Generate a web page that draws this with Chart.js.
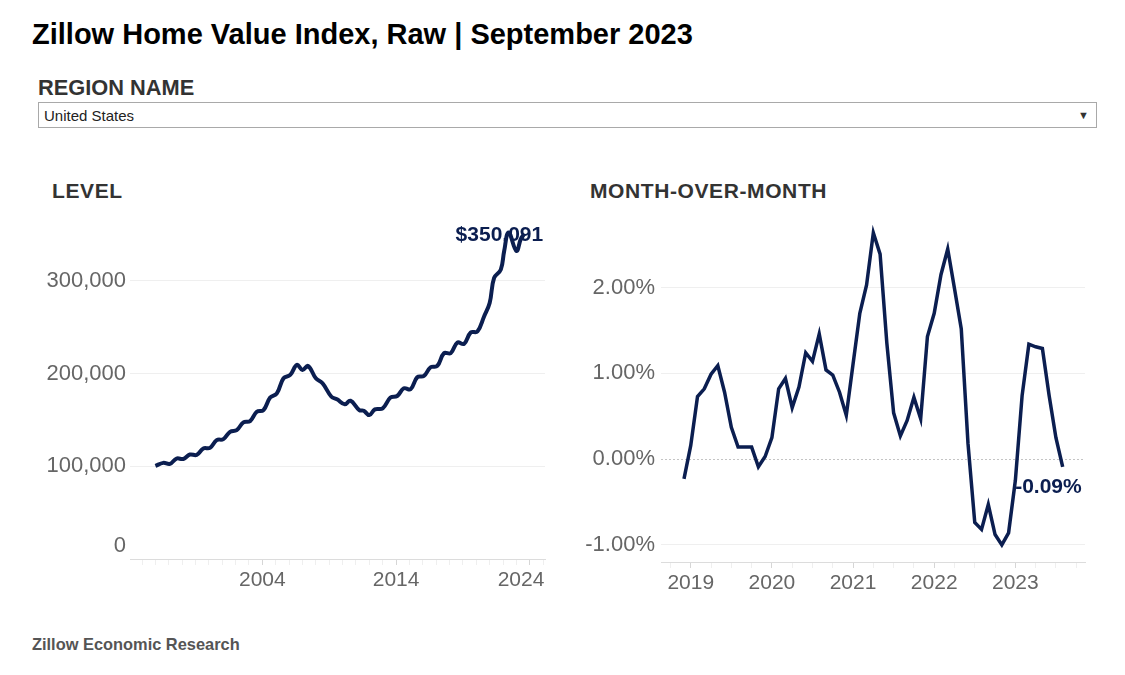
<!DOCTYPE html>
<html>
<head>
<meta charset="utf-8">
<script src="https://cdn.jsdelivr.net/npm/chart.js@4.4.0/dist/chart.umd.min.js"></script>
<style>
  body { margin: 0; width: 1125px; height: 675px; background: #fff; overflow: hidden;
         font-family: "Liberation Sans", Arial, sans-serif; position: relative; }
  .abs { position: absolute; white-space: nowrap; }
  #title { left: 32px; top: 20px; font-size: 29px; line-height: 29px; font-weight: bold; color: #000; }
  #regionLabel { left: 38px; top: 77px; font-size: 21.8px; line-height: 21px; font-weight: bold; color: #333; }
  #select { left: 38px; top: 102px; width: 1057px; height: 24px; border: 1px solid #a9a9a9; }
  #select .val { position: absolute; left: 5px; top: 4px; font-size: 15px; line-height: 17px; color: #222; }
  #select .arrow { position: absolute; right: 7px; top: 7px; font-size: 11px; line-height: 11px; color: #333; }
  .panelTitle { top: 180px; font-size: 21px; line-height: 21px; font-weight: bold; color: #333; letter-spacing: 0.6px; }
  #footer { left: 32px; top: 636px; font-size: 16.4px; line-height: 16px; font-weight: bold; color: #555; }
  canvas { position: absolute; }
</style>
</head>
<body>
<div class="abs" id="title">Zillow Home Value Index, Raw | September 2023</div>
<div class="abs" id="regionLabel">REGION NAME</div>
<div class="abs" id="select"><span class="val">United States</span><span class="arrow">&#9660;</span></div>
<div class="abs panelTitle" style="left:52px">LEVEL</div>
<div class="abs panelTitle" style="left:590px">MONTH-OVER-MONTH</div>
<canvas id="levelChart" width="525" height="380" style="left:30px; top:220px"></canvas>
<canvas id="momChart" width="525" height="396" style="left:570px; top:209px"></canvas>
<div class="abs" id="footer">Zillow Economic Research</div>

<script>
// Level series (ZHVI, raw, dollars), roughly two points a year
const levelMonths = [
  '1996-01','1996-08','1997-02','1997-08','1998-02','1998-08','1999-02','1999-08',
  '2000-02','2000-08','2001-02','2001-08','2002-02','2002-08','2003-02','2003-08',
  '2004-02','2004-08','2005-02','2005-08','2006-02','2006-08','2007-01','2007-06',
  '2008-01','2008-07','2009-03','2009-08','2010-03','2010-08','2011-04','2011-08',
  '2012-01','2012-06','2013-01','2013-08','2014-02','2014-08','2015-02','2015-08',
  '2016-02','2016-08','2017-02','2017-08','2018-02','2018-08','2019-02','2019-08',
  '2020-02','2020-08','2021-01','2021-05','2021-11','2022-02','2022-06','2023-01',
  '2023-05','2023-08'
];
const levelValues = [
  100300, 103600, 102500, 108300, 107800, 112600, 112200, 119100,
  119800, 128100, 129200, 137100, 138900, 147200, 148600, 158700,
  160500, 174000, 178600, 194800, 198400, 209200, 203800, 208100,
  194800, 189400, 174900, 172100, 166700, 170600, 160500, 159800,
  155100, 161300, 162400, 174000, 175700, 184000, 182900, 195900,
  197300, 206700, 208100, 221800, 221800, 233300, 231900, 244100,
  245200, 261400, 275900, 302900, 311900, 331700, 352000, 332000,
  345000, 350091
];
const levelYTicks = [0, 100000, 200000, 300000];
const levelXLabels = [2004, 2014, 2024];
const levelEndLabel = '$350,091';

// Month-over-month change (%)
const momMonths = [
  '2018-12',
  '2019-01','2019-02','2019-03','2019-04','2019-05','2019-06','2019-07','2019-08','2019-09','2019-10','2019-11','2019-12',
  '2020-01','2020-02','2020-03','2020-04','2020-05','2020-06','2020-07','2020-08','2020-09','2020-10','2020-11','2020-12',
  '2021-01','2021-02','2021-03','2021-04','2021-05','2021-06','2021-07','2021-08','2021-09','2021-10','2021-11','2021-12',
  '2022-01','2022-02','2022-03','2022-04','2022-05','2022-06','2022-07','2022-08','2022-09','2022-10','2022-11','2022-12',
  '2023-01','2023-02','2023-03','2023-04','2023-05','2023-06','2023-07','2023-08'
];
const momValues = [
  -0.23,
  0.16, 0.73, 0.82, 0.99, 1.09, 0.78, 0.37, 0.14, 0.14, 0.14, -0.09, 0.03,
  0.25, 0.82, 0.94, 0.60, 0.84, 1.24, 1.14, 1.46, 1.04, 0.98, 0.78, 0.51,
  1.11, 1.70, 2.03, 2.64, 2.39, 1.35, 0.54, 0.27, 0.45, 0.72, 0.47, 1.43,
  1.70, 2.15, 2.45, 1.99, 1.52, 0.18, -0.74, -0.82, -0.53, -0.88, -1.00, -0.86,
  -0.25, 0.74, 1.34, 1.31, 1.29, 0.74, 0.25, -0.09
];
const momYTicks = [-1, 0, 1, 2];
const momXLabels = [2019, 2020, 2021, 2022, 2023];
const momEndLabel = '-0.09%';

const navy = '#0b1e50';
const fontFamily = '"Liberation Sans", Arial, sans-serif';
Chart.defaults.font.family = fontFamily;

// "YYYY-MM" -> decimal year, and -> months since Jan 2019
function toYear(s) {
  const p = s.split('-');
  return Number(p[0]) + (Number(p[1]) - 1) / 12;
}
function toMonthIndex(s) {
  const p = s.split('-');
  return (Number(p[0]) - 2019) * 12 + Number(p[1]) - 1;
}

// fixed axis sizes so the plot area lands where the original has it
function fixWidth(w) {
  return s => { s.width = w; s.paddingTop = 0; s.paddingBottom = 0; };
}
function fixHeight(h) {
  return s => { s.height = h; s.paddingLeft = 0; s.paddingRight = 0; };
}

// Draws the last value next to the end of the line
const endLabel = {
  id: 'endLabel',
  beforeDatasetsDraw(chart, args, opts) {
    const meta = chart.getDatasetMeta(0);
    const pt = meta.data[meta.data.length - 1];
    const ctx = chart.ctx;
    ctx.save();
    ctx.font = 'bold 21px ' + fontFamily;
    ctx.fillStyle = navy;
    ctx.textAlign = 'right';
    ctx.textBaseline = 'middle';
    ctx.fillText(opts.text, pt.x + opts.dx, pt.y + opts.dy);
    ctx.restore();
  }
};

// --- Level chart ---
new Chart(document.getElementById('levelChart'), {
  type: 'line',
  data: {
    datasets: [{
      data: levelMonths.map((m, i) => ({ x: toYear(m), y: levelValues[i] })),
      borderColor: navy,
      borderWidth: 4,
      pointRadius: 0,
      tension: 0.4,
      fill: false
    }]
  },
  plugins: [endLabel],
  options: {
    responsive: false,
    devicePixelRatio: 1,
    animation: false,
    layout: { padding: { top: 5, right: 10, left: 0, bottom: 0 } },
    plugins: {
      legend: { display: false },
      tooltip: { enabled: false },
      endLabel: { text: levelEndLabel, dx: 19, dy: 1 }
    },
    scales: {
      x: {
        type: 'linear',
        min: 1994.1,
        max: 2025.14,
        afterFit: fixHeight(41),
        afterBuildTicks: s => {
          const t = [];
          for (let y = Math.ceil(s.min); y <= s.max; y++) t.push({ value: y });
          s.ticks = t;
        },
        ticks: {
          autoSkip: false,
          maxRotation: 0,
          padding: 3,
          color: '#666',
          font: { size: 21 },
          callback: v => levelXLabels.includes(v) ? (v === 2024 ? '2024   ' : String(v)) : ''
        },
        grid: {
          drawOnChartArea: false,
          tickLength: 6,
          tickColor: c => levelXLabels.includes(c.tick.value) ? '#d6d6d6' : '#efefef'
        },
        border: { display: true, color: '#dcdcdc', dash: [1, 3] }
      },
      y: {
        min: 0,
        max: 360000,
        afterFit: fixWidth(100),
        afterBuildTicks: s => { s.ticks = levelYTicks.map(v => ({ value: v })); },
        ticks: {
          padding: 4,
          color: '#666',
          font: { size: 22 },
          callback: v => v === 0 ? ['0', ''] : v.toLocaleString('en-US')
        },
        grid: {
          drawTicks: false,
          color: c => c.tick.value === 0 ? 'rgba(0,0,0,0)' : '#efefef'
        },
        border: { display: false }
      }
    }
  }
});

// --- Month-over-month chart ---
new Chart(document.getElementById('momChart'), {
  type: 'line',
  data: {
    datasets: [{
      data: momMonths.map((m, i) => ({ x: toMonthIndex(m), y: momValues[i] })),
      borderColor: navy,
      borderWidth: 3.5,
      pointRadius: 0,
      tension: 0,
      fill: false
    }]
  },
  plugins: [endLabel],
  options: {
    responsive: false,
    devicePixelRatio: 1,
    animation: false,
    layout: { padding: { top: 10, right: 10, left: 0, bottom: 0 } },
    plugins: {
      legend: { display: false },
      tooltip: { enabled: false },
      endLabel: { text: momEndLabel, dx: 19, dy: 20 }
    },
    scales: {
      x: {
        type: 'linear',
        min: -4.4,
        max: 58.3,
        afterFit: fixHeight(43),
        afterBuildTicks: s => {
          const t = [];
          for (let m = -3; m <= s.max; m += 3) t.push({ value: m });
          s.ticks = t;
        },
        ticks: {
          autoSkip: false,
          maxRotation: 0,
          padding: 3,
          color: '#666',
          font: { size: 21 },
          callback: v => momXLabels.includes(2019 + v / 12) ? String(2019 + v / 12) : ''
        },
        grid: {
          drawOnChartArea: false,
          tickLength: 6,
          tickColor: c => c.tick.value % 12 === 0 ? '#d6d6d6' : '#efefef'
        },
        border: { display: true, color: '#dcdcdc', dash: [1, 3] }
      },
      y: {
        min: -1.2,
        max: 2.8,
        afterFit: fixWidth(91),
        afterBuildTicks: s => { s.ticks = momYTicks.map(v => ({ value: v })); },
        ticks: {
          padding: 6,
          color: '#666',
          font: { size: 22 },
          callback: v => v.toFixed(2) + '%'
        },
        grid: {
          drawTicks: false,
          color: c => c.tick.value === 0 ? '#c4c4c4' : '#efefef'
        },
        border: {
          display: false,
          dash: c => (c.tick && c.tick.value === 0) ? [2, 2] : []
        }
      }
    }
  }
});
</script>
</body>
</html>
